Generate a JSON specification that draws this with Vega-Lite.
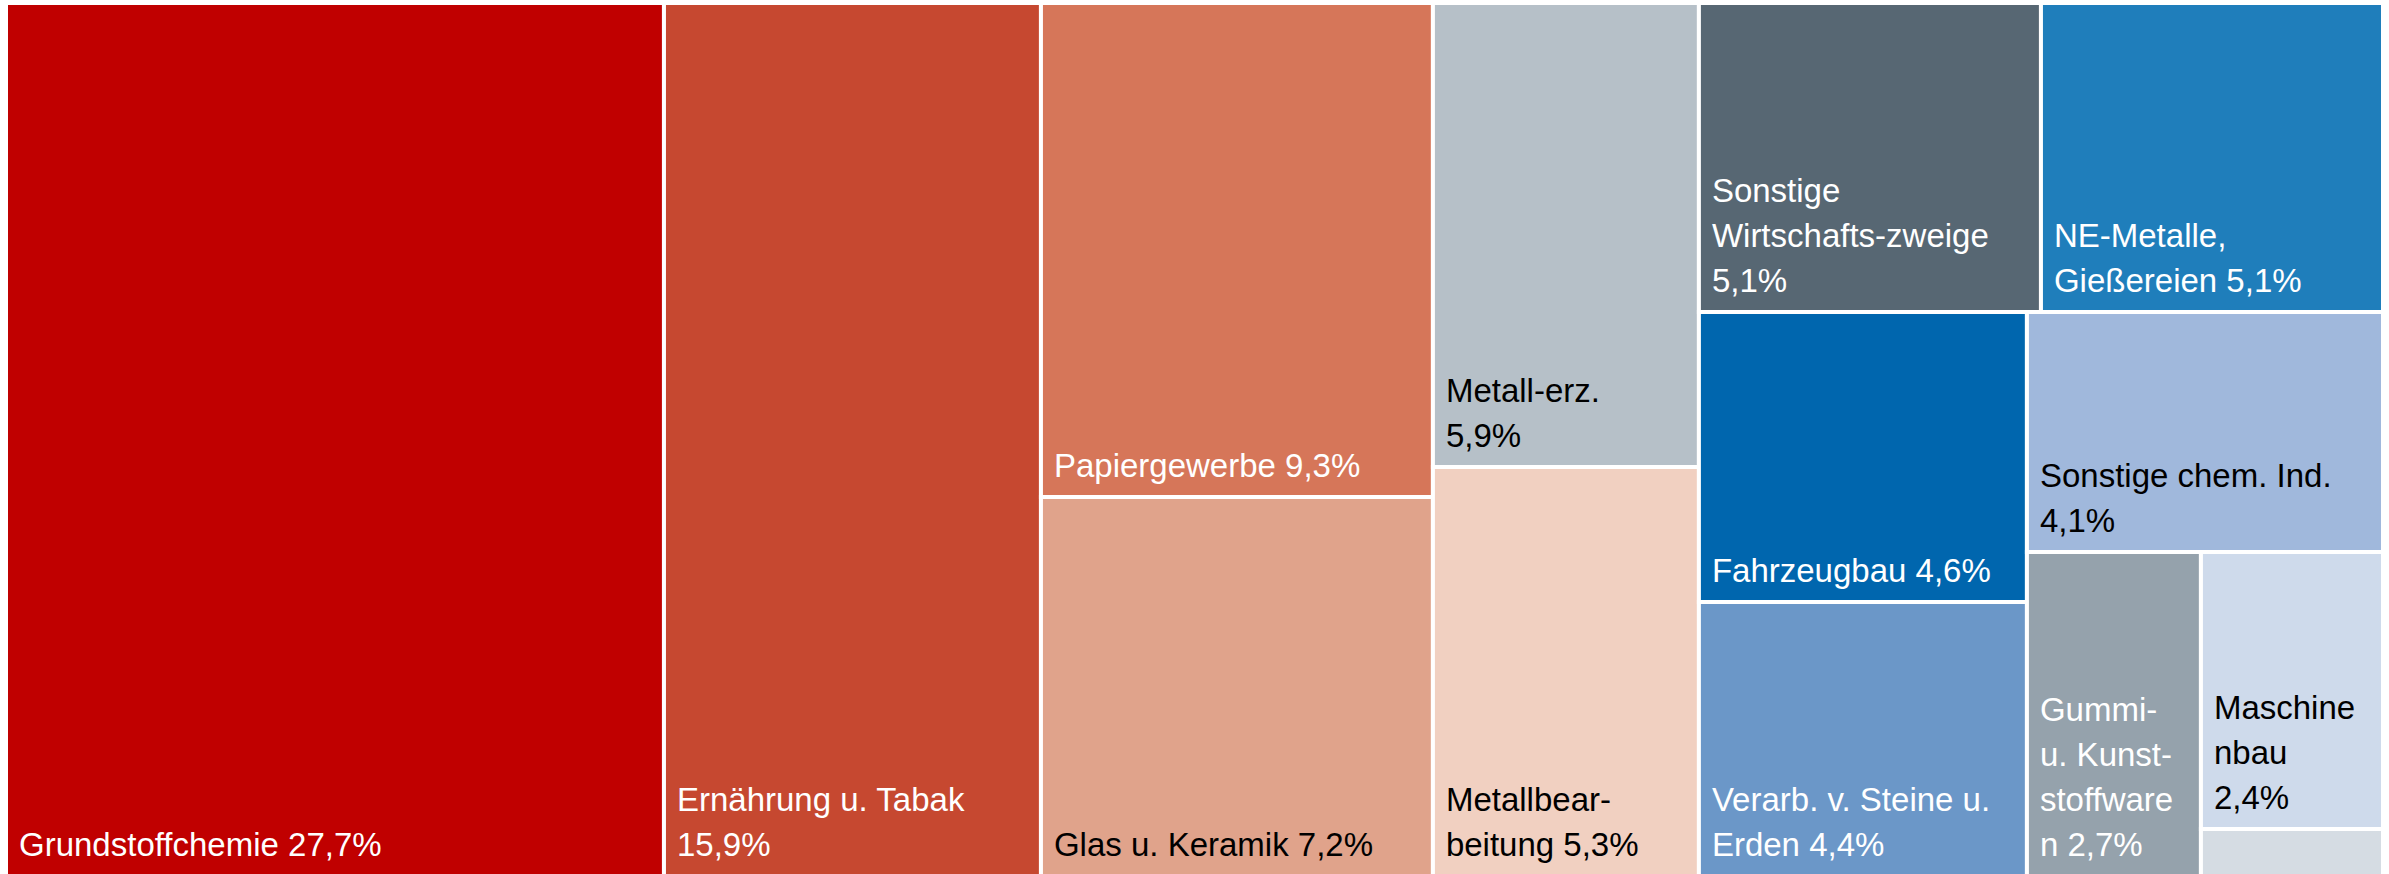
{
  "$schema": "https://vega.github.io/schema/vega-lite/v6.json",
  "width": 2377,
  "height": 871,
  "padding": {"left": 6, "top": 3, "right": 6, "bottom": 0},
  "autosize": {"type": "none"},
  "background": "white",
  "config": {"view": {"stroke": null}},
  "data": {
    "values": [
      {"name": "Grundstoffchemie", "value": 27.7, "label": "Grundstoffchemie 27,7%", "lines": 1, "x0": 0, "x1": 27.68, "y0": 0, "y1": 100},
      {"name": "Ernährung u. Tabak", "value": 15.9, "label": "Ernährung u. Tabak\n15,9%", "lines": 2, "x0": 27.68, "x1": 43.54, "y0": 0, "y1": 100},
      {"name": "Papiergewerbe", "value": 9.3, "label": "Papiergewerbe 9,3%", "lines": 1, "x0": 43.54, "x1": 60.03, "y0": 0, "y1": 56.59},
      {"name": "Glas u. Keramik", "value": 7.2, "label": "Glas u. Keramik 7,2%", "lines": 1, "x0": 43.54, "x1": 60.03, "y0": 56.59, "y1": 100},
      {"name": "Metallerzeugung", "value": 5.9, "label": "Metall-erz.\n5,9%", "lines": 2, "x0": 60.03, "x1": 71.22, "y0": 0, "y1": 53.15},
      {"name": "Metallbearbeitung", "value": 5.3, "label": "Metallbear-\nbeitung 5,3%", "lines": 2, "x0": 60.03, "x1": 71.22, "y0": 53.15, "y1": 100},
      {"name": "Sonstige Wirtschaftszweige", "value": 5.1, "label": "Sonstige\nWirtschafts-zweige\n5,1%", "lines": 3, "x0": 71.22, "x1": 85.61, "y0": 0, "y1": 35.4},
      {"name": "NE-Metalle, Gießereien", "value": 5.1, "label": "NE-Metalle,\nGießereien 5,1%", "lines": 2, "x0": 85.61, "x1": 100, "y0": 0, "y1": 35.4},
      {"name": "Fahrzeugbau", "value": 4.6, "label": "Fahrzeugbau 4,6%", "lines": 1, "x0": 71.22, "x1": 85.02, "y0": 35.4, "y1": 68.61},
      {"name": "Verarb. v. Steine u. Erden", "value": 4.4, "label": "Verarb. v. Steine u.\nErden 4,4%", "lines": 2, "x0": 71.22, "x1": 85.02, "y0": 68.61, "y1": 100},
      {"name": "Sonstige chem. Ind.", "value": 4.1, "label": "Sonstige chem. Ind.\n4,1%", "lines": 2, "x0": 85.02, "x1": 100, "y0": 35.4, "y1": 62.89},
      {"name": "Gummi- u. Kunststoffwaren", "value": 2.7, "label": "Gummi-\nu. Kunst-\nstoffware\nn 2,7%", "lines": 4, "x0": 85.02, "x1": 92.34, "y0": 62.89, "y1": 100},
      {"name": "Maschinenbau", "value": 2.4, "label": "Maschine\nnbau\n2,4%", "lines": 3, "x0": 92.34, "x1": 100, "y0": 62.89, "y1": 94.62},
      {"name": "Übrige", "value": 0.3, "label": "", "lines": 0, "x0": 92.34, "x1": 100, "y0": 94.62, "y1": 100}
    ]
  },
  "encoding": {
    "x": {"field": "x0", "type": "quantitative", "scale": {"domain": [0, 100], "nice": false, "zero": false}, "axis": null}
  },
  "layer": [
    {
      "mark": {"type": "rect", "stroke": "white", "strokeWidth": 4},
      "encoding": {
        "y": {"field": "y0", "type": "quantitative", "scale": {"domain": [0, 99.77], "reverse": true, "nice": false, "zero": false}, "axis": null},
        "x2": {"field": "x1"},
        "y2": {"field": "y1"},
        "color": {
          "field": "name",
          "type": "nominal",
          "legend": null,
          "scale": {
            "domain": ["Grundstoffchemie", "Ernährung u. Tabak", "Papiergewerbe", "Glas u. Keramik", "Metallerzeugung", "Metallbearbeitung", "Sonstige Wirtschaftszweige", "NE-Metalle, Gießereien", "Fahrzeugbau", "Verarb. v. Steine u. Erden", "Sonstige chem. Ind.", "Gummi- u. Kunststoffwaren", "Maschinenbau", "Übrige"],
            "range": ["#C00000", "#C64830", "#D67659", "#E0A38B", "#B6C0C8", "#F1D0C1", "#576773", "#1F7EBB", "#0066AE", "#6B97C8", "#A0B8DC", "#95A2AC", "#CEDAEB", "#D5DCE3"]
          }
        }
      }
    },
    {
      "transform": [{"filter": "datum.lines == 1"}],
      "mark": {"type": "text", "align": "left", "baseline": "bottom", "dx": 13, "dy": -13, "fontSize": 33, "font": "Liberation Sans", "lineHeight": 45, "lineBreak": "\n"},
      "encoding": {
        "y": {"field": "y1", "type": "quantitative"},
        "text": {"field": "label"},
        "fill": {"condition": {"test": "indexof(['Glas u. Keramik','Metallerzeugung','Metallbearbeitung','Sonstige chem. Ind.','Maschinenbau'], datum.name) >= 0", "value": "#000000"}, "value": "#FFFFFF"}
      }
    },
    {
      "transform": [{"filter": "datum.lines == 2"}],
      "mark": {"type": "text", "align": "left", "baseline": "bottom", "dx": 13, "dy": -58, "fontSize": 33, "font": "Liberation Sans", "lineHeight": 45, "lineBreak": "\n"},
      "encoding": {
        "y": {"field": "y1", "type": "quantitative"},
        "text": {"field": "label"},
        "fill": {"condition": {"test": "indexof(['Glas u. Keramik','Metallerzeugung','Metallbearbeitung','Sonstige chem. Ind.','Maschinenbau'], datum.name) >= 0", "value": "#000000"}, "value": "#FFFFFF"}
      }
    },
    {
      "transform": [{"filter": "datum.lines == 3"}],
      "mark": {"type": "text", "align": "left", "baseline": "bottom", "dx": 13, "dy": -103, "fontSize": 33, "font": "Liberation Sans", "lineHeight": 45, "lineBreak": "\n"},
      "encoding": {
        "y": {"field": "y1", "type": "quantitative"},
        "text": {"field": "label"},
        "fill": {"condition": {"test": "indexof(['Glas u. Keramik','Metallerzeugung','Metallbearbeitung','Sonstige chem. Ind.','Maschinenbau'], datum.name) >= 0", "value": "#000000"}, "value": "#FFFFFF"}
      }
    },
    {
      "transform": [{"filter": "datum.lines == 4"}],
      "mark": {"type": "text", "align": "left", "baseline": "bottom", "dx": 13, "dy": -148, "fontSize": 33, "font": "Liberation Sans", "lineHeight": 45, "lineBreak": "\n"},
      "encoding": {
        "y": {"field": "y1", "type": "quantitative"},
        "text": {"field": "label"},
        "fill": {"condition": {"test": "indexof(['Glas u. Keramik','Metallerzeugung','Metallbearbeitung','Sonstige chem. Ind.','Maschinenbau'], datum.name) >= 0", "value": "#000000"}, "value": "#FFFFFF"}
      }
    }
  ]
}
